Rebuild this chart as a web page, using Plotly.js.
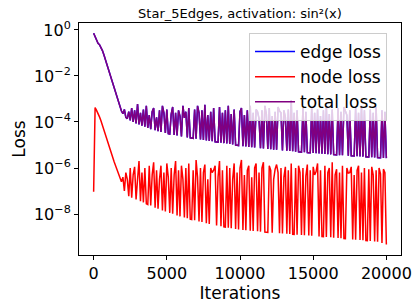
<!DOCTYPE html>
<html>
<head>
<meta charset="utf-8">
<script src="https://cdn.plot.ly/plotly-3.0.1.min.js"></script>
<style>html,body{margin:0;padding:0;background:#fff;}#chart{width:414px;height:304px;}</style>
</head>
<body>
<div id="chart"></div>
<script>
const iterations = [
0,100,200,300,400,500,600,700,800,900,
1000,1100,1200,1300,1400,1500,1600,1700,1800,1900,
2000,2100,2200,2300,2400,2500,2600,2700,2800,2900,
3000,3100,3200,3300,3400,3500,3600,3700,3800,3900,
4000,4100,4200,4300,4400,4500,4600,4700,4800,4900,
5000,5100,5200,5300,5400,5500,5600,5700,5800,5900,
6000,6100,6200,6300,6400,6500,6600,6700,6800,6900,
7000,7100,7200,7300,7400,7500,7600,7700,7800,7900,
8000,8100,8200,8300,8400,8500,8600,8700,8800,8900,
9000,9100,9200,9300,9400,9500,9600,9700,9800,9900,
10000,10100,10200,10300,10400,10500,10600,10700,10800,10900,
11000,11100,11200,11300,11400,11500,11600,11700,11800,11900,
12000,12100,12200,12300,12400,12500,12600,12700,12800,12900,
13000,13100,13200,13300,13400,13500,13600,13700,13800,13900,
14000,14100,14200,14300,14400,14500,14600,14700,14800,14900,
15000,15100,15200,15300,15400,15500,15600,15700,15800,15900,
16000,16100,16200,16300,16400,16500,16600,16700,16800,16900,
17000,17100,17200,17300,17400,17500,17600,17700,17800,17900,
18000,18100,18200,18300,18400,18500,18600,18700,18800,18900,
19000,19100,19200,19300,19400,19500,19600,19700,19800,19900,
20000];

const totalLoss = [
0.72,0.52,0.33,0.26,0.23,0.18,0.126,0.083,0.052,0.032,
0.020,0.012,7.6e-3,4.5e-3,2.7e-3,1.7e-3,1.05e-3,6.6e-4,4.2e-4,3.0e-4,
2.3e-4,3.5e-4,1.6e-4,1.4e-4,2.8e-4,1.17e-4,4.0e-4,1.0e-4,3.2e-4,8.7e-5,
6.0e-4,7.8e-5,2.5e-4,6.9e-5,3.5e-4,6.2e-5,5.0e-4,5.5e-5,2.0e-4,4.9e-5,
2.8e-4,4.0e-4,4.4e-5,1.6e-4,4.0e-5,3.2e-4,3.7e-5,5.0e-4,2.5e-4,3.3e-5,
3.5e-4,3.1e-5,3.0e-5,2.2e-4,4.5e-4,2.7e-5,2.5e-4,2.57e-5,3.2e-4,1.8e-4,
2.35e-5,5.0e-4,1.5e-4,2.8e-4,2.14e-5,4.0e-4,2.04e-5,1.99e-5,1.95e-5,3.5e-4,
1.86e-5,5.0e-4,2.5e-4,1.74e-5,3.2e-4,1.66e-5,5.6e-4,1.58e-5,2.0e-4,1.51e-5,
2.8e-4,1.45e-5,4.0e-4,1.38e-5,1.35e-5,1.32e-5,4.5e-4,1.26e-5,2.5e-4,1.2e-5,
3.2e-4,1.15e-5,5.0e-4,1.1e-5,2.2e-4,1.05e-5,3.5e-4,1.0e-5,9.8e-6,9.5e-6,
2.8e-4,4.0e-4,8.9e-6,2.0e-4,8.6e-6,3.2e-4,8.3e-6,5.0e-4,8.0e-6,2.5e-4,
7.8e-6,3.5e-4,2.8e-4,1.4e-4,7.3e-6,3.2e-4,7.0e-6,5.0e-4,2.2e-4,6.7e-6,
4.0e-4,6.5e-6,1.8e-4,6.3e-6,2.8e-4,6.15e-6,4.5e-4,3.0e-4,2.5e-4,5.8e-6,
3.2e-4,1.6e-4,5.6e-6,3.5e-4,5.45e-6,8.9e-4,5.3e-6,2.5e-4,5.15e-6,3.2e-4,
5.0e-6,4.95e-6,4.9e-6,4.0e-4,4.8e-6,2.8e-4,4.7e-6,4.65e-6,4.6e-6,4.5e-4,
4.47e-6,2.5e-4,4.36e-6,3.5e-4,4.25e-6,1.8e-4,4.15e-6,3.2e-4,4.07e-6,5.0e-4,
3.98e-6,2.2e-4,3.9e-6,3.5e-4,3.8e-6,3.76e-6,3.72e-6,4.0e-4,3.63e-6,2.8e-4,
3.55e-6,4.5e-4,2.8e-4,2.0e-4,3.43e-6,3.2e-4,3.37e-6,3.34e-6,3.3e-6,4.0e-4,
3.24e-6,2.5e-4,3.18e-6,5.0e-4,3.12e-6,3.2e-4,3.06e-6,3.03e-6,3.0e-6,3.5e-4,
2.95e-6,2.5e-4,2.9e-6,4.5e-4,2.85e-6,2.82e-6,2.79e-6,3.2e-4,2.74e-6,2.8e-4,
2.69e-6];

const edgeLoss = [
0.72,0.52,0.33,0.26,0.23,0.18,0.126,0.083,0.052,0.032,
0.020,0.012,7.6e-3,4.5e-3,2.7e-3,1.7e-3,1.05e-3,6.6e-4,4.2e-4,3.0e-4,
2.3e-4,3.5e-4,1.6e-4,1.4e-4,2.8e-4,1.17e-4,4.0e-4,1.0e-4,3.2e-4,8.7e-5,
6.0e-4,7.8e-5,2.5e-4,6.9e-5,3.5e-4,6.2e-5,5.0e-4,5.5e-5,2.0e-4,4.9e-5,
2.8e-4,4.0e-4,4.4e-5,1.6e-4,4.0e-5,3.2e-4,3.7e-5,5.0e-4,2.5e-4,3.3e-5,
3.5e-4,3.1e-5,3.0e-5,2.2e-4,4.5e-4,2.7e-5,2.5e-4,2.57e-5,3.2e-4,1.8e-4,
2.35e-5,5.0e-4,1.5e-4,2.8e-4,2.14e-5,4.0e-4,2.04e-5,1.99e-5,1.95e-5,3.5e-4,
1.86e-5,5.0e-4,2.5e-4,1.74e-5,3.2e-4,1.66e-5,5.6e-4,1.58e-5,2.0e-4,1.51e-5,
2.8e-4,1.45e-5,4.0e-4,1.38e-5,1.35e-5,1.32e-5,4.5e-4,1.26e-5,2.5e-4,1.2e-5,
3.2e-4,1.15e-5,5.0e-4,1.1e-5,2.2e-4,1.05e-5,3.5e-4,1.0e-5,9.8e-6,9.5e-6,
2.8e-4,4.0e-4,8.9e-6,2.0e-4,8.6e-6,3.2e-4,8.3e-6,5.0e-4,8.0e-6,2.5e-4,
7.8e-6,3.5e-4,2.8e-4,1.4e-4,7.3e-6,3.2e-4,7.0e-6,5.0e-4,2.2e-4,6.7e-6,
4.0e-4,6.5e-6,1.8e-4,6.3e-6,2.8e-4,6.15e-6,4.5e-4,3.0e-4,2.5e-4,5.8e-6,
3.2e-4,1.6e-4,5.6e-6,3.5e-4,5.45e-6,8.9e-4,5.3e-6,2.5e-4,5.15e-6,3.2e-4,
5.0e-6,4.95e-6,4.9e-6,4.0e-4,4.8e-6,2.8e-4,4.7e-6,4.65e-6,4.6e-6,4.5e-4,
4.47e-6,2.5e-4,4.36e-6,3.5e-4,4.25e-6,1.8e-4,4.15e-6,3.2e-4,4.07e-6,5.0e-4,
3.98e-6,2.2e-4,3.9e-6,3.5e-4,3.8e-6,3.76e-6,3.72e-6,4.0e-4,3.63e-6,2.8e-4,
3.55e-6,4.5e-4,2.8e-4,2.0e-4,3.43e-6,3.2e-4,3.37e-6,3.34e-6,3.3e-6,4.0e-4,
3.24e-6,2.5e-4,3.18e-6,5.0e-4,3.12e-6,3.2e-4,3.06e-6,3.03e-6,3.0e-6,3.5e-4,
2.95e-6,2.5e-4,2.9e-6,4.5e-4,2.85e-6,2.82e-6,2.79e-6,3.2e-4,2.74e-6,2.8e-4,
2.69e-6];

const nodeLoss = [
9.3e-8,4.2e-4,3.2e-4,2.4e-4,1.66e-4,1.12e-4,7.1e-5,4.2e-5,2.5e-5,1.5e-5,
9.5e-6,6.0e-6,4.0e-6,2.7e-6,1.86e-6,1.26e-6,8.7e-7,6.0e-7,4.2e-7,2.5e-7,
4.0e-7,1.0e-7,6.3e-7,3.2e-7,6.0e-8,1.0e-6,5.1e-8,5.0e-7,1.12e-6,4.3e-8,
3.2e-7,2.0e-6,3.6e-8,6.3e-7,3.2e-8,1.0e-6,2.8e-8,2.6e-8,1.26e-6,2.35e-8,
5.0e-7,1.78e-6,1.9e-8,7.9e-7,1.7e-8,3.2e-7,1.26e-6,1.44e-8,6.3e-7,1.3e-8,
1.58e-6,4.0e-7,1.12e-8,1.0e-6,1.02e-8,5.0e-7,2.0e-6,8.7e-9,7.9e-7,7.9e-9,
1.26e-6,3.2e-7,7.1e-9,1.0e-6,6.5e-9,1.58e-6,6.0e-9,5.8e-9,7.9e-7,5.4e-9,
2.24e-6,4.0e-7,4.8e-9,1.0e-6,4.5e-9,6.3e-7,1.41e-6,4.0e-9,3.2e-7,3.7e-9,
1.0e-6,6.3e-7,8.0e-7,1.26e-6,3.18e-9,4.0e-7,2.0e-6,2.94e-9,7.9e-7,2.78e-9,
2.7e-9,1.26e-6,2.56e-9,1.0e-6,2.43e-9,3.2e-7,1.58e-6,2.24e-9,6.3e-7,2.13e-9,
1.0e-6,2.24e-6,2.03e-9,5.0e-7,1.97e-9,7.9e-7,1.26e-6,1.89e-9,4.0e-7,1.84e-9,
1.0e-6,1.58e-6,1.77e-9,6.3e-7,1.72e-9,1.0e-6,1.78e-6,1.65e-9,1.63e-9,1.6e-9,
1.26e-6,7.9e-7,1.55e-9,3.2e-7,9.0e-7,1.41e-6,6.3e-7,1.45e-9,1.0e-6,1.42e-9,
4.0e-7,1.12e-6,1.38e-9,7.9e-7,1.35e-9,1.58e-6,1.32e-9,1.3e-9,1.0e-6,1.27e-9,
1.26e-6,6.3e-7,1.23e-9,1.0e-6,1.2e-9,4.5e-7,1.41e-6,1.16e-9,7.9e-7,1.13e-9,
1.12e-6,5.0e-7,7.0e-7,1.58e-6,1.07e-9,7.9e-7,1.05e-9,1.04e-9,1.26e-6,1.01e-9,
6.3e-7,1.0e-6,9.7e-10,1.78e-6,9.4e-10,5.0e-7,8.9e-7,9.0e-10,6.3e-7,8.8e-10,
1.26e-6,8.6e-10,8.5e-10,1.0e-6,6.0e-7,6.3e-7,1.12e-6,7.9e-10,5.0e-7,7.7e-10,
7.9e-7,1.26e-6,7.4e-10,6.3e-7,7.2e-10,1.0e-6,7.0e-10,6.9e-10,8.9e-7,6.7e-10,
1.12e-6,5.0e-7,6.4e-10,7.9e-7,6.2e-10,1.0e-6,5.6e-7,5.5e-10,8.9e-7,6.3e-7,
4.7e-10];

const seriesNames = ['edge loss', 'node loss', 'total loss'];
const xTickVals = [0, 5000, 10000, 15000, 20000];
const yTickVals = [1, 1e-2, 1e-4, 1e-6, 1e-8];
const yTickText = ['10<sup>0</sup>', '10<sup>\u22122</sup>', '10<sup>\u22124</sup>', '10<sup>\u22126</sup>', '10<sup>\u22128</sup>'];

const FONT = 'DejaVu Sans, sans-serif';

const traces = [
  {x: iterations, y: edgeLoss, name: seriesNames[0], type: 'scatter', mode: 'lines',
   line: {color: '#0000ff', width: 1.5}},
  {x: iterations, y: nodeLoss, name: seriesNames[1], type: 'scatter', mode: 'lines',
   line: {color: '#ff0000', width: 1.5}},
  {x: iterations, y: totalLoss, name: seriesNames[2], type: 'scatter', mode: 'lines',
   line: {color: '#800080', width: 1.5}}
];

const layout = {
  width: 414, height: 304,
  margin: {l: 79, r: 13, t: 23, b: 49, pad: 0},
  paper_bgcolor: '#ffffff', plot_bgcolor: '#ffffff',
  font: {family: FONT, color: '#000'},
  showlegend: true,
  title: {text: 'Star_5Edges, activation: sin\u00b2(x)', font: {family: FONT, size: 13, color: '#000'},
          x: 0.5, xref: 'paper', xanchor: 'center', y: 0.956, yref: 'container', yanchor: 'middle'},
  xaxis: {
    range: [-1000, 21000], tickvals: xTickVals, ticktext: xTickVals.map(String),
    ticks: 'outside', ticklen: 4, tickwidth: 1, tickcolor: '#000',
    showline: true, mirror: true, linecolor: '#000', linewidth: 1,
    showgrid: false, zeroline: false,
    tickfont: {family: FONT, size: 16, color: '#000'},
    title: {text: 'Iterations', font: {family: FONT, size: 17, color: '#000'}, standoff: 1}
  },
  yaxis: {
    type: 'log', range: [-9.78, 0.30], tickvals: yTickVals, ticktext: yTickText,
    ticks: 'outside', ticklen: 4, tickwidth: 1, tickcolor: '#000',
    showline: true, mirror: true, linecolor: '#000', linewidth: 1,
    showgrid: false, zeroline: false,
    tickfont: {family: FONT, size: 16, color: '#000'},
    title: {text: 'Loss', font: {family: FONT, size: 17, color: '#000'}, standoff: 3}
  },
  legend: {
    x: 0.528, y: 0.957, xanchor: 'left', yanchor: 'top',
    bgcolor: 'rgba(255,255,255,0.8)', bordercolor: '#cccccc', borderwidth: 1,
    font: {family: FONT, size: 17, color: '#000'},
    itemwidth: 40, traceorder: 'normal',
    entrywidth: 95, entrywidthmode: 'pixels'
  }
};

Plotly.newPlot('chart', traces, layout, {staticPlot: true, displayModeBar: false});
</script>
</body>
</html>
